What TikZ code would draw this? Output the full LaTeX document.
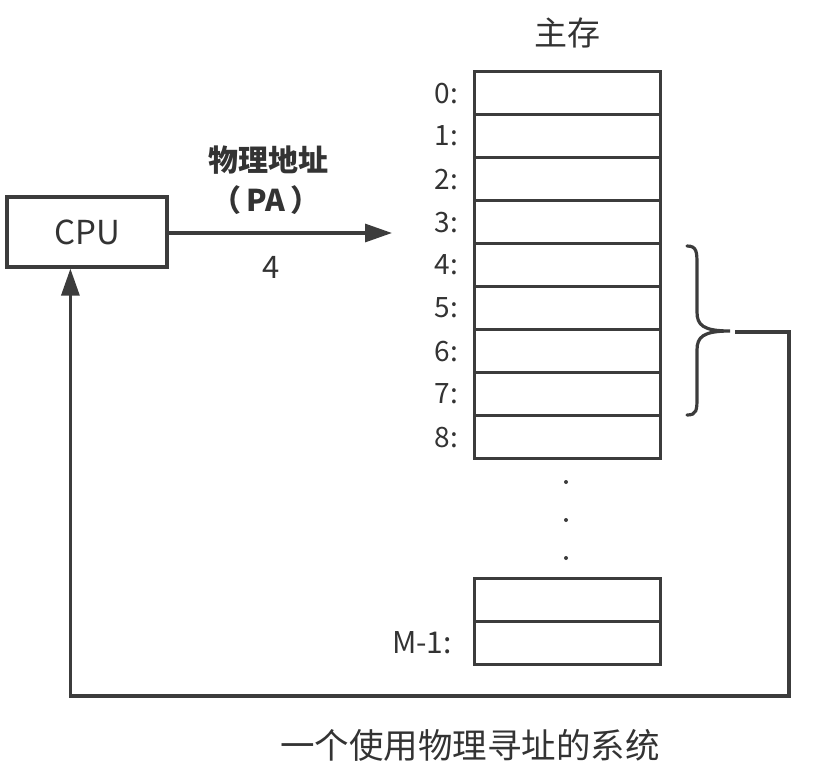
\documentclass[tikz,border=0pt]{standalone}
\usepackage{fontspec}
\setmainfont{Noto Sans CJK SC}
\usetikzlibrary{calc, positioning, arrows.meta}
\definecolor{lineGray}{HTML}{3C3C3C}
\definecolor{textGray}{HTML}{333333}

\tikzset{
  cellbox/.style={draw=lineGray, line width=3.2pt, minimum width=186pt,
                  minimum height=43pt, inner sep=0pt, anchor=north west},
  addr/.style={anchor=east, text=textGray, inner sep=0pt,
               font=\fontsize{28}{32}\selectfont},
  link/.style={draw=lineGray, line width=3.2pt},
  pointer/.style={-{Triangle[length=27pt,width=18pt]}},
  caption/.style={text=textGray, inner sep=0pt}
}

\begin{document}
\begin{tikzpicture}[x=1pt, y=-1pt]
  \useasboundingbox (0,0) rectangle (824,774);

  % CPU
  \node[draw=lineGray, line width=3.2pt, minimum width=160pt, minimum height=70pt,
        inner sep=0pt, text=textGray, font=\fontsize{33}{36}\selectfont]
        (cpu) at (87,232) {CPU};

  % main memory
  \node[caption, font=\fontsize{33}{36}\selectfont] (memtitle) at (567,33) {主存};
  \foreach \i in {0,...,8} {
    \node[cellbox] (cell\i) at (473,{70+43*\i}) {};
    \node[addr] (addr\i) at ([xshift=-15pt]cell\i.west) {\i:};
  }
  \foreach \y/\n in {482/a, 520/b, 558/c}
    \fill[lineGray] (566,\y) circle (2pt) coordinate (dot\n);
  \node[cellbox] (cellx) at (473,577) {};
  \node[cellbox] (celllast) at (473,620) {};
  \node[addr, font=\fontsize{30}{34}\selectfont] (addrlast)
        at ([xshift=-21pt]celllast.west) {M-1:};

  % address bus
  \coordinate (pain) at (392,233);
  \draw[link, pointer] (cpu.east |- pain) -- (pain);
  \node[caption, font=\bfseries\fontsize{30}{34}\selectfont] (palabel) at (268,160) {物理地址};
  \node[caption, font=\bfseries\fontsize{30}{34}\selectfont] (pashort) at (266,200) {（\,PA\,）};
  \node[caption, font=\fontsize{31}{34}\selectfont] (paval) at (271,267) {4};

  % brace over cells 4..7
  \draw[lineGray, line width=3.2pt, line cap=round]
    (687,246) .. controls (697,246) and (697,252) .. (697,266) -- (697,312)
    .. controls (697,325) and (703,331) .. (730,331)
    .. controls (703,331) and (697,337) .. (697,350) -- (697,396)
    .. controls (697,410) and (697,415) .. (687,415);

  % data back to CPU
  \coordinate (brtip) at (735,332);
  \coordinate (loop) at (789,696);
  \coordinate (cpuin) at ([xshift=65pt]cpu.south west);
  \draw[link, pointer] (brtip) -| (loop) -| (cpuin);

  \node[caption, font=\fontsize{34.5}{38}\selectfont] (syscap) at (470,745)
        {一个使用物理寻址的系统};
\end{tikzpicture}
\end{document}
